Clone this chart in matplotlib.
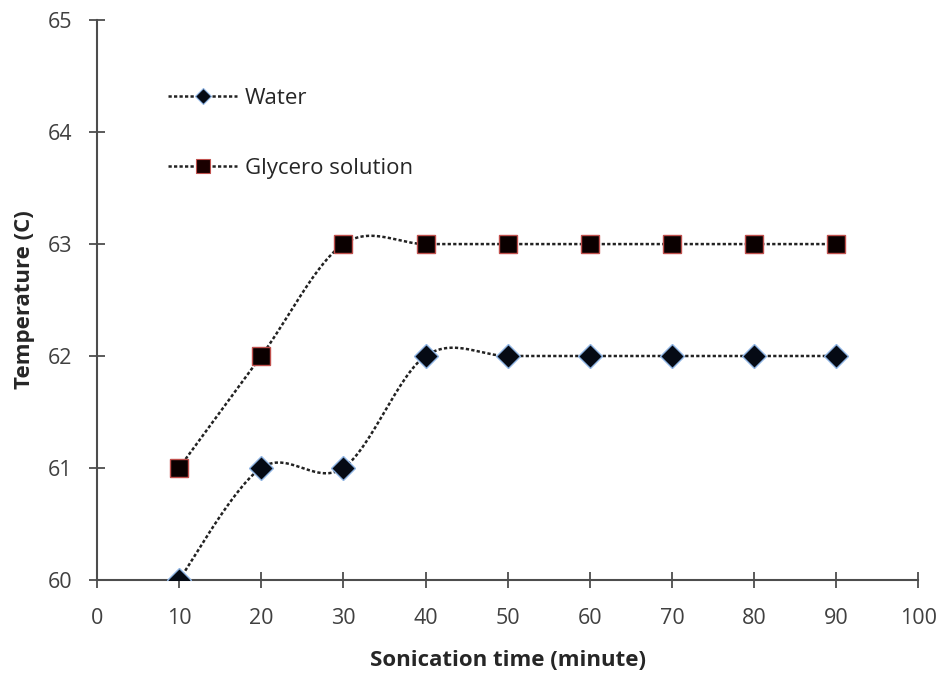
import numpy as np
import matplotlib.pyplot as plt

plt.rcParams['font.family'] = ['Open Sans', 'DejaVu Sans']

time_min = [10, 20, 30, 40, 50, 60, 70, 80, 90]
water = [60, 61, 61, 62, 62, 62, 62, 62, 62]
glycero = [61, 62, 63, 63, 63, 63, 63, 63, 63]


def smooth(xs, ys, n=30):
    # Excel-like smoothed line (Catmull-Rom through the points)
    xs = np.asarray(xs, float)
    ys = np.asarray(ys, float)
    px = np.concatenate([[xs[0]], xs, [xs[-1]]])
    py = np.concatenate([[ys[0]], ys, [ys[-1]]])
    ox, oy = [], []
    for i in range(1, len(px) - 2):
        p0 = np.array([px[i], py[i]])
        p3 = np.array([px[i + 1], py[i + 1]])
        c1 = p0 + (np.array([px[i + 1], py[i + 1]]) - np.array([px[i - 1], py[i - 1]])) / 6
        c2 = p3 - (np.array([px[i + 2], py[i + 2]]) - np.array([px[i], py[i]])) / 6
        t = np.linspace(0, 1, n)[:, None]
        b = (1 - t) ** 3 * p0 + 3 * (1 - t) ** 2 * t * c1 + 3 * (1 - t) * t ** 2 * c2 + t ** 3 * p3
        ox.extend(b[:, 0])
        oy.extend(b[:, 1])
    return ox, oy


fig = plt.figure(figsize=(9.41, 6.75), dpi=100)
ax = fig.add_axes([0.103, 0.141, 0.873, 0.829])

ls = (0, (1.3, 0.9))
lc = '#222222'

sx, sy = smooth(time_min, water)
ax.plot(sx, sy, color=lc, lw=1.8, linestyle=ls)
sx, sy = smooth(time_min, glycero)
ax.plot(sx, sy, color=lc, lw=1.8, linestyle=ls)

ax.plot(time_min, water, linestyle='none', marker='D', ms=12.5, mfc='#050a14',
        mec='#8fb4e3', mew=1.0, zorder=3)
ax.plot(time_min, glycero, linestyle='none', marker='s', ms=13, mfc='#0a0000',
        mec='#c0504d', mew=1.0, zorder=3)

# legend handles
h1, = ax.plot([], [], color=lc, lw=1.8, linestyle=ls, marker='D', ms=8,
              mfc='#050a14', mec='#8fb4e3', mew=0.8)
h2, = ax.plot([], [], color=lc, lw=1.8, linestyle=ls, marker='s', ms=10,
              mfc='#1a0000', mec='#c0504d', mew=0.8)
leg = ax.legend([h1, h2], ['Water', 'Glycero solution'], loc='upper left',
                bbox_to_anchor=(0.076, 0.895), frameon=False, fontsize=16,
                handlelength=3.1, handletextpad=0.35, labelspacing=2.2,
                borderaxespad=0)
for t in leg.get_texts():
    t.set_color('#262626')

ax.set_xlim(0, 100)
ax.set_ylim(60, 65)
ax.set_xticks(range(0, 101, 10))
ax.set_yticks(range(60, 66))

for s in ['top', 'right']:
    ax.spines[s].set_visible(False)
for s in ['left', 'bottom']:
    ax.spines[s].set_color('#4d4d4d')
    ax.spines[s].set_linewidth(1.5)
ax.tick_params(direction='inout', length=11, width=1.3, color='#4d4d4d',
               labelsize=15.5, labelcolor='#404040')
ax.tick_params(axis='x', pad=15)
ax.tick_params(axis='y', pad=12)

ax.set_xlabel('Sonication time (minute)', fontsize=16, fontweight='bold',
              color='#262626', labelpad=15)
ax.set_ylabel('Temperature (C)', fontsize=16, fontweight='bold',
              color='#262626', labelpad=9)

fig.savefig('out.png', dpi=100)
